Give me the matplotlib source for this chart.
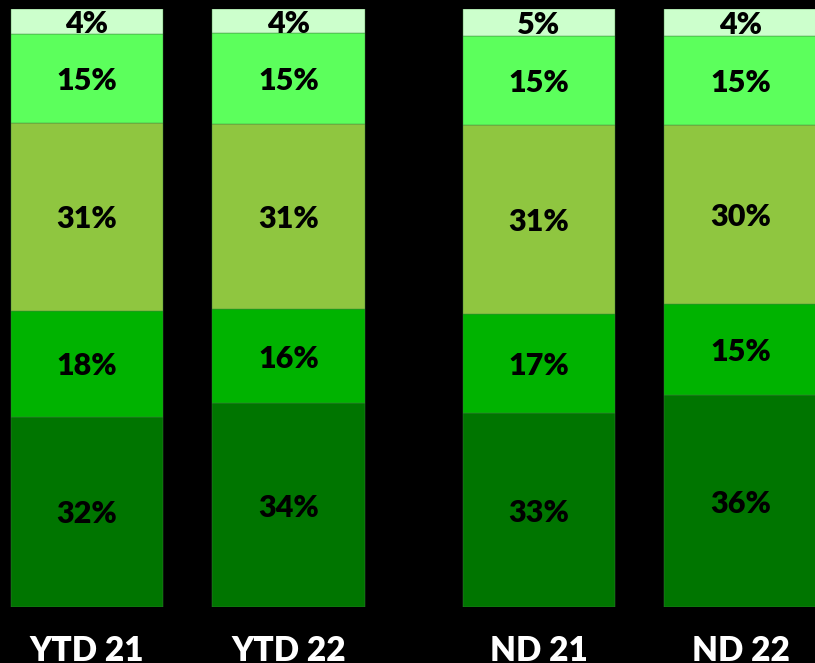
import matplotlib
matplotlib.use("Agg")
import matplotlib.pyplot as plt
import numpy as np

categories = ["YTD 21", "YTD 22", "ND 21", "ND 22"]
# segments from bottom to top
seg1 = [31.9, 34.1, 32.5, 35.5]
seg2 = [17.7, 15.7, 16.6, 15.3]
seg3 = [31.4, 31.1, 31.5, 29.9]
seg4 = [14.9, 15.1, 15.0, 14.9]
seg5 = [4.1, 4.0, 4.4, 4.4]
labels1 = ["32%", "34%", "33%", "36%"]
labels2 = ["18%", "16%", "17%", "15%"]
labels3 = ["31%", "31%", "31%", "30%"]
labels4 = ["15%", "15%", "15%", "15%"]
labels5 = ["4%", "4%", "5%", "4%"]

colors = ["#007500", "#00b300", "#8fc640", "#5cff5c", "#ccffcc"]

W, H = 815, 663
fig = plt.figure(figsize=(W / 100, H / 100), dpi=100)
fig.patch.set_facecolor("black")
bottom_px, top_px = 607.3, 9.3
ax = fig.add_axes([0, 1 - bottom_px / H, 1, (bottom_px - top_px) / H])
ax.set_facecolor("black")
ax.set_xlim(0, W)
ax.set_ylim(0, 100)
ax.axis("off")

pitch = 201.6
gap_extra = 250.4 - pitch
lefts = np.array([10.7 + i * pitch + (gap_extra if i >= 2 else 0) for i in range(4)])
width = 152.5
centers = lefts + width / 2

segs = [seg1, seg2, seg3, seg4, seg5]
labs = [labels1, labels2, labels3, labels4, labels5]
base = np.zeros(4)
font = "Lato"
px = 100 / (bottom_px - top_px)  # data units per pixel
for vals, lab, col in zip(segs, labs, colors):
    vals = np.array(vals)
    ax.bar(lefts, vals, width=width, bottom=base, align="edge", color=col,
           edgecolor="#3f7f3f", linewidth=0.3)
    for c, b, v, t in zip(centers, base, vals, lab):
        ax.text(c, b + v / 2 - 2.5 * px, t, ha="center", va="center", fontsize=22,
                fontweight="heavy", color="black", family=font)
    base = base + vals

for c, name in zip(centers, categories):
    fig.text(c / W, 1 - 651 / H, name, ha="center", va="center", fontsize=24,
             fontweight="heavy", color="white", family=font)

fig.savefig("out.png", dpi=100, facecolor="black")
